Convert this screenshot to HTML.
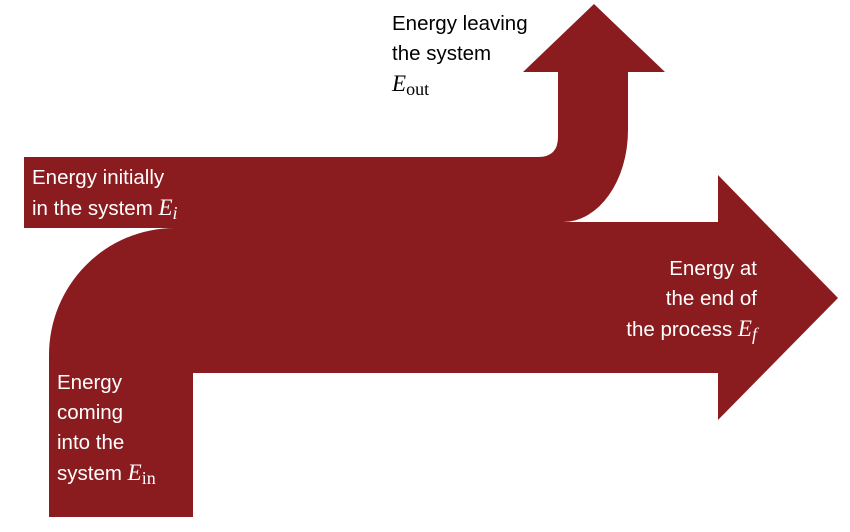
<!DOCTYPE html>
<html><head><meta charset="utf-8"><style>
body{margin:0;background:#fff;width:850px;height:532px;overflow:hidden;position:relative;font-family:"Liberation Sans",sans-serif;}
.t{position:absolute;font-size:20.5px;line-height:30px;white-space:nowrap;}
.w{color:#fff}
i.m{font-family:"Liberation Serif",serif;font-size:23px;}
sub{font-family:"Liberation Serif",serif;font-size:18px;vertical-align:-4px;line-height:0}
</style></head><body>
<svg width="850" height="532" style="position:absolute;left:0;top:0">
<path fill="#8a1c1f" d="M24,157 L538,157 Q558,157 558,137 L558,72 L523,72 L594,4 L665,72 L628,72 L628,130 A65,92 0 0 1 563,222 L718,222 L718,175 L838,298 L718,420 L718,373 L193,373 L193,517 L49,517 L49,355 A126,127 0 0 1 175,228 L24,228 Z"/>
</svg>
<div class="t w" style="left:32px;top:163px">Energy initially<br>in the system <i class="m">E</i><sub><i>i</i></sub></div>
<div class="t" style="left:392px;top:9px;color:#000">Energy leaving<br>the system<br><i class="m">E</i><sub>out</sub></div>
<div class="t w" style="right:93px;top:254px;text-align:right">Energy at<br>the end of<br>the process <i class="m">E</i><sub><i>f</i></sub></div>
<div class="t w" style="left:57px;top:368px">Energy<br>coming<br>into the<br>system <i class="m">E</i><sub>in</sub></div>
</body></html>
